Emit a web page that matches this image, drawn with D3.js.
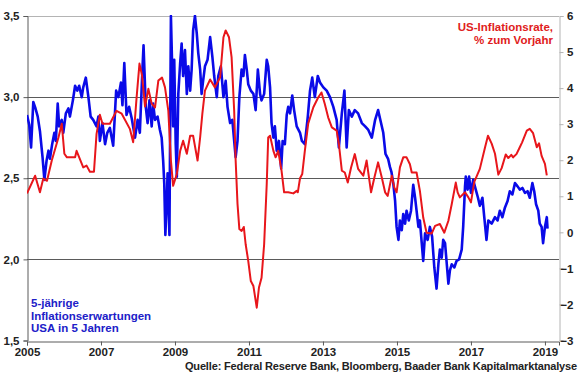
<!DOCTYPE html>
<html>
<head>
<meta charset="utf-8">
<script src="https://cdn.jsdelivr.net/npm/d3@7"></script>
<style>
  body { margin: 0; background: #fff; }
  svg { display: block; font-family: 'Liberation Sans', Arial, sans-serif; font-weight: bold; }
</style>
</head>
<body>
<svg width="580" height="375" viewBox="0 0 580 375"></svg>
<script>
// US-Inflationsrate (rechte Achse), [Jahr, % zum Vorjahr]
const inflation = [
  [2005.00, 1.08], [2005.22, 1.57], [2005.35, 1.11], [2005.44, 1.49], [2005.54, 1.43],
  [2005.67, 1.99], [2005.85, 2.63], [2005.94, 3.01], [2006.01, 2.18], [2006.08, 2.08],
  [2006.30, 2.08], [2006.34, 2.26], [2006.52, 1.80], [2006.61, 1.85], [2006.70, 1.68],
  [2006.81, 1.68], [2006.88, 2.73], [2006.97, 3.26], [2007.04, 3.01], [2007.24, 3.01],
  [2007.42, 3.37], [2007.56, 3.29], [2007.78, 2.87], [2007.87, 2.50], [2007.96, 3.71],
  [2008.04, 4.68], [2008.11, 4.35], [2008.19, 3.49], [2008.28, 3.98], [2008.37, 3.57],
  [2008.46, 3.46], [2008.55, 4.21], [2008.65, 4.29], [2008.73, 4.02], [2008.82, 3.37],
  [2008.89, 1.99], [2008.95, 1.29], [2009.05, 1.62], [2009.14, 2.26], [2009.22, 2.54],
  [2009.32, 2.18], [2009.41, 2.68], [2009.49, 2.68], [2009.61, 1.99], [2009.68, 2.63],
  [2009.74, 3.29], [2009.81, 3.93], [2009.95, 4.24], [2010.08, 4.02], [2010.22, 4.30],
  [2010.31, 5.41], [2010.37, 5.60], [2010.46, 5.41], [2010.53, 4.86], [2010.60, 3.37],
  [2010.64, 1.99], [2010.69, 0.79], [2010.74, 0.09], [2010.80, 0.04], [2010.86, 0.15],
  [2010.91, -0.33], [2010.98, -0.79], [2011.05, -1.35], [2011.12, -1.49], [2011.21, -2.09],
  [2011.27, -1.53], [2011.34, -1.26], [2011.41, -0.33], [2011.48, 1.34], [2011.52, 2.63],
  [2011.57, 2.68], [2011.66, 2.26], [2011.72, 2.08], [2011.79, 2.26], [2011.88, 1.71],
  [2011.95, 1.11], [2012.06, 1.11], [2012.20, 1.08], [2012.29, 1.15], [2012.32, 1.11],
  [2012.38, 1.50], [2012.44, 1.62], [2012.51, 2.26], [2012.60, 3.01], [2012.74, 3.47],
  [2012.87, 3.74], [2012.96, 3.88], [2013.05, 3.56], [2013.14, 3.19], [2013.24, 2.91],
  [2013.37, 2.82], [2013.43, 2.45], [2013.51, 1.71], [2013.59, 1.66], [2013.67, 1.38],
  [2013.76, 1.80], [2013.86, 2.17], [2013.95, 1.76], [2014.09, 1.57], [2014.18, 1.99],
  [2014.30, 1.11], [2014.39, 1.52], [2014.49, 1.94], [2014.59, 1.52], [2014.68, 1.11],
  [2014.75, 1.01], [2014.86, 1.57], [2014.93, 1.24], [2014.99, 1.11], [2015.08, 1.80],
  [2015.17, 2.08], [2015.26, 2.08], [2015.35, 1.89], [2015.40, 1.66], [2015.53, 1.66],
  [2015.62, 1.15], [2015.71, 0.41], [2015.80, -0.01], [2015.94, -0.03], [2016.03, 0.18],
  [2016.16, 0.23], [2016.28, -0.01], [2016.39, 0.32], [2016.48, 0.78], [2016.59, 1.38],
  [2016.64, 1.11], [2016.70, 0.97], [2016.84, 1.11], [2016.93, 0.97], [2017.00, 0.83],
  [2017.09, 1.40], [2017.24, 1.76], [2017.38, 2.35], [2017.46, 2.68], [2017.56, 2.46],
  [2017.65, 2.18], [2017.74, 1.60], [2017.83, 1.78], [2017.94, 2.16], [2018.01, 2.06],
  [2018.09, 2.15], [2018.14, 2.08], [2018.23, 2.17], [2018.32, 2.36], [2018.38, 2.49],
  [2018.51, 2.82], [2018.59, 2.87], [2018.68, 2.75], [2018.78, 2.36], [2018.84, 2.47],
  [2018.91, 2.12], [2019.00, 1.90], [2019.05, 1.58]
]

// 5-jaehrige Inflationserwartungen USA in 5 Jahren (linke Achse), [Jahr, %]
const expectations = [
  [2005.00, 2.89], [2005.06, 2.83], [2005.11, 2.69], [2005.17, 2.97], [2005.23, 2.93],
  [2005.29, 2.88], [2005.35, 2.79], [2005.42, 2.63], [2005.47, 2.49], [2005.53, 2.61],
  [2005.58, 2.67], [2005.62, 2.62], [2005.68, 2.71], [2005.74, 2.78], [2005.78, 2.73],
  [2005.83, 2.96], [2005.87, 2.82], [2005.94, 2.86], [2005.98, 2.78], [2006.05, 2.90],
  [2006.12, 2.93], [2006.16, 2.88], [2006.24, 2.98], [2006.30, 3.07], [2006.36, 3.04],
  [2006.41, 3.07], [2006.48, 3.00], [2006.52, 3.06], [2006.59, 3.12], [2006.66, 3.00],
  [2006.72, 2.88], [2006.79, 2.86], [2006.88, 2.82], [2006.93, 2.88], [2006.97, 2.73],
  [2007.04, 2.84], [2007.11, 2.71], [2007.17, 2.78], [2007.24, 2.81], [2007.33, 2.70],
  [2007.41, 3.04], [2007.47, 3.00], [2007.54, 3.09], [2007.58, 2.95], [2007.63, 3.21],
  [2007.69, 2.89], [2007.76, 2.94], [2007.83, 2.87], [2007.92, 2.75], [2007.99, 2.86],
  [2008.05, 2.78], [2008.12, 3.17], [2008.15, 3.32], [2008.21, 2.94], [2008.26, 2.84],
  [2008.31, 2.98], [2008.37, 2.82], [2008.41, 2.96], [2008.46, 2.86], [2008.53, 2.88],
  [2008.59, 2.80], [2008.64, 2.75], [2008.68, 2.61], [2008.71, 2.47], [2008.74, 2.15],
  [2008.78, 2.38], [2008.80, 2.53], [2008.85, 2.15], [2008.86, 2.49], [2008.89, 3.50],
  [2008.93, 3.13], [2008.95, 2.82], [2008.98, 3.23], [2009.02, 2.71], [2009.05, 2.51],
  [2009.09, 3.02], [2009.14, 3.21], [2009.18, 3.33], [2009.22, 3.13], [2009.27, 3.29],
  [2009.32, 3.02], [2009.36, 3.19], [2009.41, 3.04], [2009.45, 3.17], [2009.49, 3.41],
  [2009.54, 3.50], [2009.59, 3.39], [2009.63, 3.27], [2009.68, 3.17], [2009.72, 3.02],
  [2009.76, 3.10], [2009.81, 3.19], [2009.88, 3.23], [2009.95, 3.37], [2010.01, 3.25],
  [2010.06, 3.13], [2010.13, 3.00], [2010.17, 3.13], [2010.24, 3.19], [2010.31, 3.00],
  [2010.37, 3.10], [2010.42, 2.94], [2010.49, 2.84], [2010.55, 2.86], [2010.60, 2.73],
  [2010.64, 2.63], [2010.69, 2.73], [2010.74, 3.00], [2010.80, 3.17], [2010.85, 3.13],
  [2010.89, 3.26], [2010.94, 3.17], [2010.98, 3.08], [2011.05, 3.04], [2011.12, 3.02],
  [2011.18, 2.92], [2011.24, 3.17], [2011.30, 3.02], [2011.34, 2.98], [2011.41, 3.02],
  [2011.48, 3.23], [2011.52, 3.19], [2011.57, 3.06], [2011.61, 2.84], [2011.66, 2.75],
  [2011.70, 2.82], [2011.75, 2.67], [2011.81, 2.73], [2011.87, 2.56], [2011.91, 2.73],
  [2011.97, 2.71], [2012.02, 2.89], [2012.06, 2.94], [2012.11, 2.90], [2012.17, 3.01],
  [2012.22, 2.92], [2012.29, 2.82], [2012.38, 2.78], [2012.43, 2.73], [2012.51, 2.71],
  [2012.59, 2.88], [2012.65, 3.04], [2012.71, 3.12], [2012.78, 3.00], [2012.86, 3.13],
  [2012.92, 3.09], [2013.01, 3.06], [2013.10, 3.04], [2013.19, 3.00], [2013.28, 2.94],
  [2013.37, 2.86], [2013.43, 2.69], [2013.51, 2.90], [2013.58, 3.04], [2013.64, 2.69],
  [2013.70, 2.92], [2013.78, 2.88], [2013.86, 2.92], [2013.95, 2.90], [2014.05, 2.84],
  [2014.14, 2.82], [2014.22, 2.80], [2014.32, 2.75], [2014.41, 2.86], [2014.49, 2.92],
  [2014.57, 2.84], [2014.63, 2.78], [2014.69, 2.65], [2014.76, 2.62], [2014.81, 2.57],
  [2014.85, 2.54], [2014.90, 2.47], [2014.95, 2.36], [2014.99, 2.20], [2015.04, 2.12],
  [2015.08, 2.24], [2015.13, 2.18], [2015.17, 2.28], [2015.22, 2.22], [2015.26, 2.30],
  [2015.32, 2.24], [2015.38, 2.30], [2015.44, 2.46], [2015.49, 2.38], [2015.53, 2.30],
  [2015.58, 2.20], [2015.62, 2.24], [2015.67, 2.10], [2015.71, 1.99], [2015.76, 2.16],
  [2015.83, 2.12], [2015.89, 2.20], [2015.95, 2.14], [2016.01, 1.95], [2016.07, 1.82],
  [2016.12, 1.97], [2016.16, 2.06], [2016.21, 2.01], [2016.25, 2.12], [2016.30, 2.10],
  [2016.34, 1.99], [2016.39, 1.85], [2016.43, 1.93], [2016.48, 1.97], [2016.55, 1.95],
  [2016.61, 1.99], [2016.68, 2.00], [2016.75, 2.06], [2016.79, 2.20], [2016.84, 2.45],
  [2016.86, 2.51], [2016.91, 2.43], [2016.95, 2.51], [2017.00, 2.41], [2017.06, 2.49],
  [2017.13, 2.43], [2017.19, 2.38], [2017.24, 2.33], [2017.31, 2.38], [2017.36, 2.26],
  [2017.42, 2.12], [2017.47, 2.24], [2017.56, 2.22], [2017.65, 2.26], [2017.72, 2.24],
  [2017.78, 2.30], [2017.85, 2.26], [2017.92, 2.32], [2017.99, 2.36], [2018.05, 2.42],
  [2018.12, 2.40], [2018.19, 2.47], [2018.26, 2.45], [2018.32, 2.43], [2018.39, 2.44],
  [2018.46, 2.41], [2018.53, 2.42], [2018.59, 2.38], [2018.66, 2.47], [2018.71, 2.42],
  [2018.76, 2.34], [2018.82, 2.30], [2018.86, 2.22], [2018.91, 2.20], [2018.95, 2.10],
  [2019.00, 2.20], [2019.05, 2.26], [2019.07, 2.19]
]

const yearTicks = [2005, 2007, 2009, 2011, 2013, 2015, 2017, 2019]
const leftTicks = [1.5, 2.0, 2.5, 3.0, 3.5]
const rightTicks = [-3, -2, -1, 0, 1, 2, 3, 4, 5, 6]
const gridValues = [2.0, 2.5, 3.0]

const svg = d3.select('svg')
const plot = { left: 27, right: 559, top: 16, bottom: 340.5 }

const x = d3.scaleLinear().domain([2005, 2019.38]).range([plot.left, plot.right])
const yLeft = d3.scaleLinear().domain([1.5, 3.5]).range([plot.bottom, plot.top])
const yRight = d3.scaleLinear().domain([-3, 6]).range([plot.bottom, plot.top])

const red = '#e8161b'
const blue = '#0a0ae8'
const fmtComma = d3.format('.1f')

svg.append('defs').append('clipPath').attr('id', 'plotClip')
  .append('rect')
  .attr('x', plot.left).attr('y', plot.top - 1)
  .attr('width', plot.right - plot.left).attr('height', plot.bottom - plot.top + 1)

// gridlines
svg.append('g').selectAll('line').data(gridValues).join('line')
  .attr('x1', plot.left).attr('x2', plot.right)
  .attr('y1', d => Math.round(yLeft(d)) + 0.5).attr('y2', d => Math.round(yLeft(d)) + 0.5)
  .attr('stroke', '#5a5a5a').attr('stroke-width', 1)

// top border (3,5) in light grey
svg.append('line')
  .attr('x1', plot.left).attr('x2', plot.right)
  .attr('y1', plot.top + 0.5).attr('y2', plot.top + 0.5)
  .attr('stroke', '#b4b4b4')

// left axis
const leftAxis = d3.axisLeft(yLeft).tickValues(leftTicks).tickSize(4).tickPadding(4)
  .tickFormat(d => fmtComma(d).replace('.', ','))
svg.append('g').attr('transform', `translate(${plot.left + 0.5},0)`).call(leftAxis)
  .call(g => g.select('.domain').attr('stroke', '#5a5a5a'))
  .call(g => g.selectAll('.tick line').attr('stroke', '#5a5a5a'))
  .call(g => g.selectAll('.tick text').attr('fill', '#222').attr('font-size', 11.5).attr('font-weight', 'bold'))

// right axis
const rightAxis = d3.axisRight(yRight).tickValues(rightTicks).tickSize(4).tickPadding(1)
svg.append('g').attr('transform', `translate(${plot.right + 0.5},0)`).call(rightAxis)
  .call(g => g.select('.domain').attr('stroke', '#b4b4b4'))
  .call(g => g.selectAll('.tick line').attr('stroke', '#b4b4b4'))
  .call(g => g.selectAll('.tick text')
    .attr('fill', '#222').attr('font-size', 11.5).attr('font-weight', 'bold')
    .attr('text-anchor', 'end').attr('x', 14))

// bottom axis
const bottomAxis = d3.axisBottom(x).tickValues(yearTicks).tickSize(4).tickPadding(2)
  .tickFormat(d3.format('d'))
svg.append('g').attr('transform', `translate(0,${Math.round(plot.bottom) + 0.5})`).call(bottomAxis)
  .call(g => g.select('.domain').attr('stroke', '#5a5a5a'))
  .call(g => g.selectAll('.tick line').attr('stroke', '#5a5a5a'))
  .call(g => g.selectAll('.tick text').attr('fill', '#222').attr('font-size', 11.5).attr('font-weight', 'bold'))

// series
const lines = svg.append('g').attr('clip-path', 'url(#plotClip)')

lines.append('path')
  .datum(expectations)
  .attr('fill', 'none')
  .attr('stroke', blue)
  .attr('stroke-width', 2.6)
  .attr('stroke-linejoin', 'round')
  .attr('d', d3.line().x(d => x(d[0])).y(d => yLeft(d[1])))

lines.append('path')
  .datum(inflation)
  .attr('fill', 'none')
  .attr('stroke', red)
  .attr('stroke-width', 2)
  .attr('stroke-linejoin', 'round')
  .attr('d', d3.line().x(d => x(d[0])).y(d => yRight(d[1])))

// labels
const redLabel = svg.append('text')
  .attr('x', 553).attr('y', 31)
  .attr('text-anchor', 'end')
  .attr('fill', '#e02020')
  .attr('font-size', 11.5)
redLabel.append('tspan').attr('x', 553).text('US-Inflationsrate,')
redLabel.append('tspan').attr('x', 553).attr('dy', 13).text('% zum Vorjahr')

const blueLabel = svg.append('text')
  .attr('x', 31).attr('y', 307)
  .attr('fill', '#2020c8')
  .attr('font-size', 11.5)
blueLabel.append('tspan').attr('x', 31).text('5-jährige')
blueLabel.append('tspan').attr('x', 31).attr('dy', 12.5).text('Inflationserwartungen')
blueLabel.append('tspan').attr('x', 31).attr('dy', 12.5).text('USA in 5 Jahren')

svg.append('text')
  .attr('x', 577).attr('y', 369.5)
  .attr('text-anchor', 'end')
  .attr('fill', '#222')
  .attr('font-size', 11)
  .attr('letter-spacing', -0.15)
  .text('Quelle: Federal Reserve Bank, Bloomberg, Baader Bank Kapitalmarktanalyse')
</script>
</body>
</html>
